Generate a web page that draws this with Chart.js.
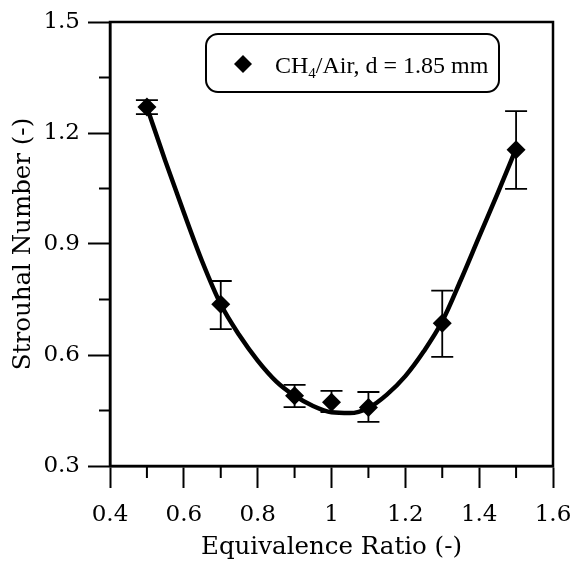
<!DOCTYPE html>
<html>
<head>
<meta charset="utf-8">
<script src="https://cdn.jsdelivr.net/npm/chart.js@4/dist/chart.umd.min.js"></script>
<style>
  html, body { margin: 0; padding: 0; background: #fff; }
  #wrap { width: 571px; height: 562px; }
</style>
</head>
<body>
<div id="wrap"><canvas id="chart" width="571" height="562"></canvas></div>
<script>
var phi = [0.5, 0.7, 0.9, 1.0, 1.1, 1.3, 1.5];
var strouhal = [1.270, 0.737, 0.490, 0.472, 0.458, 0.686, 1.155];
var errLow = [1.251, 0.670, 0.459, 0.446, 0.419, 0.595, 1.049];
var errHigh = [1.289, 0.800, 0.519, 0.503, 0.500, 0.774, 1.259];

// fitted curve
var fitX = [0.50, 0.55, 0.60, 0.65, 0.70, 0.75, 0.80, 0.85, 0.90, 0.95, 1.00, 1.05, 1.10, 1.15, 1.20, 1.25, 1.30, 1.35, 1.40, 1.45, 1.50];
var fitY = [1.270, 1.124, 0.985, 0.852, 0.737, 0.654, 0.585, 0.529, 0.490, 0.462, 0.445, 0.443, 0.457, 0.493, 0.543, 0.610, 0.691, 0.802, 0.920, 1.037, 1.158];

var xMinor = [0.5, 0.7, 0.9, 1.1, 1.3, 1.5];
var yMinor = [0.45, 0.75, 1.05, 1.35];

var FONT = "'DejaVu Serif', 'Liberation Serif', serif";
var LEGEND_FONT = "'Liberation Serif', 'DejaVu Serif', serif";

var frame = {
    id: 'frame',
    beforeDatasetsDraw: function (chart) {
        var ctx = chart.ctx, x = chart.scales.x, y = chart.scales.y;
        ctx.save();
        ctx.strokeStyle = '#000';
        ctx.lineWidth = 1.8;
        phi.forEach(function (p, i) {
            var px = x.getPixelForValue(p);
            var top = y.getPixelForValue(errHigh[i]);
            var bot = y.getPixelForValue(errLow[i]);
            ctx.beginPath();
            ctx.moveTo(px, top); ctx.lineTo(px, bot);
            ctx.moveTo(px - 11, top); ctx.lineTo(px + 11, top);
            ctx.moveTo(px - 11, bot); ctx.lineTo(px + 11, bot);
            ctx.stroke();
        });
        ctx.restore();
    },
    afterDraw: function (chart) {
        var ctx = chart.ctx, a = chart.chartArea, x = chart.scales.x, y = chart.scales.y;
        ctx.save();
        ctx.strokeStyle = '#000';
        ctx.lineWidth = 2.5;
        ctx.strokeRect(a.left, a.top, a.right - a.left, a.bottom - a.top);
        // minor ticks
        ctx.lineWidth = 2;
        ctx.beginPath();
        xMinor.forEach(function (v) {
            var px = x.getPixelForValue(v);
            ctx.moveTo(px, a.bottom); ctx.lineTo(px, a.bottom + 12);
        });
        yMinor.forEach(function (v) {
            var py = y.getPixelForValue(v);
            ctx.moveTo(a.left, py); ctx.lineTo(a.left - 11, py);
        });
        ctx.stroke();

        // legend box
        var bx = 206, by = 34, bw = 293, bh = 58, r = 12;
        ctx.lineWidth = 2;
        ctx.beginPath();
        ctx.roundRect(bx, by, bw, bh, r);
        ctx.fillStyle = '#fff';
        ctx.fill();
        ctx.stroke();
        ctx.fillStyle = '#000';
        ctx.beginPath();
        var cx = 243, cy = 64, d = 9;
        ctx.moveTo(cx, cy - d); ctx.lineTo(cx + d, cy); ctx.lineTo(cx, cy + d); ctx.lineTo(cx - d, cy);
        ctx.closePath();
        ctx.fill();
        ctx.textBaseline = 'alphabetic';
        ctx.textAlign = 'left';
        var tx = 275, base = 73;
        ctx.font = '24px ' + LEGEND_FONT;
        ctx.fillText('CH', tx, base);
        tx += ctx.measureText('CH').width;
        ctx.font = '15px ' + LEGEND_FONT;
        ctx.fillText('4', tx, base + 5);
        tx += ctx.measureText('4').width;
        ctx.font = '24px ' + LEGEND_FONT;
        ctx.fillText('/Air, d = 1.85 mm', tx, base);
        ctx.restore();
    }
};

new Chart(document.getElementById('chart'), {
    type: 'scatter',
    data: {
        datasets: [
            {
                label: 'fit',
                type: 'line',
                data: fitX.map(function (v, i) { return { x: v, y: fitY[i] }; }),
                borderColor: '#000',
                borderWidth: 4.5,
                pointRadius: 0,
                fill: false,
                cubicInterpolationMode: 'monotone'
            },
            {
                label: 'CH4/Air, d = 1.85 mm',
                data: phi.map(function (v, i) { return { x: v, y: strouhal[i] }; }),
                pointStyle: 'rectRot',
                pointRadius: 9.5,
                backgroundColor: '#000',
                borderColor: '#000',
                borderWidth: 0
            }
        ]
    },
    options: {
        responsive: false,
        animation: false,
        devicePixelRatio: 1,
        layout: { padding: { top: 22, right: 18, left: 0, bottom: 0 } },
        plugins: { legend: { display: false }, tooltip: { enabled: false } },
        scales: {
            x: {
                type: 'linear',
                min: 0.4,
                max: 1.6,
                afterFit: function (s) { s.height = 96; s.paddingLeft = 0; s.paddingRight = 0; },
                ticks: {
                    stepSize: 0.2,
                    padding: 13,
                    color: '#000',
                    font: { family: FONT, size: 23 },
                    maxRotation: 0,
                    callback: function (v) { return Math.round(v * 10) / 10 + ''; }
                },
                grid: { drawOnChartArea: false, tickLength: 22, tickWidth: 2, tickColor: '#000' },
                border: { display: true, color: '#000', width: 2.5 },
                title: {
                    display: true,
                    text: 'Equivalence Ratio (-)',
                    color: '#000',
                    font: { family: FONT, size: 24.5 },
                    padding: { top: 0, bottom: 0 }
                }
            },
            y: {
                type: 'linear',
                min: 0.3,
                max: 1.5,
                afterFit: function (s) { s.width = 110; s.paddingTop = 0; s.paddingBottom = 0; },
                ticks: {
                    stepSize: 0.3,
                    padding: 8,
                    color: '#000',
                    font: { family: FONT, size: 23 },
                    callback: function (v) { return (Math.round(v * 10) / 10).toFixed(1); }
                },
                grid: { drawOnChartArea: false, tickLength: 22, tickWidth: 2, tickColor: '#000' },
                border: { display: true, color: '#000', width: 2.5 },
                title: {
                    display: true,
                    text: 'Strouhal Number (-)',
                    color: '#000',
                    font: { family: FONT, size: 24.5 },
                    padding: { top: 9, bottom: 0 }
                }
            }
        }
    },
    plugins: [frame]
});
</script>
</body>
</html>
